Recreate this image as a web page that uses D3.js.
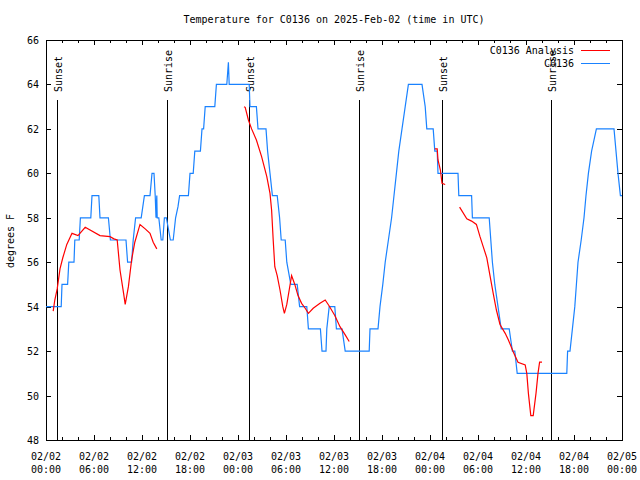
<!DOCTYPE html>
<html><head><meta charset="utf-8">
<script src="https://cdn.jsdelivr.net/npm/d3@7/dist/d3.min.js"></script>
<style>
body{margin:0;background:#fff}
text{font-family:"DejaVu Sans Mono","Liberation Mono",monospace;font-size:10px;fill:#000}
</style>
</head><body><svg id="c" width="640" height="480"></svg>
<script>
// ---- data (hours after 2025-02-02 00:00 UTC) ----
const title = "Temperature for C0136 on 2025-Feb-02 (time in UTC)";
const yLabel = "degrees F";
const seriesNames = ["C0136 Analysis", "C0136"];
const yTicks = [48, 50, 52, 54, 56, 58, 60, 62, 64, 66];

const obsHours = [0,1.9,2.0,2.7,2.85,3.5,3.6,4.15,4.3,5.6,5.75,6.6,6.75,7.8,8.05,10.0,10.2,10.7,10.9,11.2,11.9,12.3,13.0,13.25,13.5,13.65,13.75,13.85,13.9,14.1,14.4,14.6,14.8,15.05,15.55,15.9,16.2,16.5,16.7,17.8,18.0,18.4,18.6,19.3,19.5,19.7,19.9,21.1,21.3,22.6,22.8,22.9,25.4,25.5,26.3,26.5,27.5,27.7,28.0,28.3,28.9,29.2,29.4,29.9,30.1,30.6,31.4,31.7,32.6,32.8,34.3,34.5,35.0,35.1,35.4,36.1,36.3,37.0,37.4,40.4,40.5,41.5,41.75,42.1,42.4,42.8,43.2,43.5,43.8,44.1,44.5,44.9,45.3,47.0,47.4,47.6,48.4,48.6,48.9,49.0,51.5,51.6,53.2,53.3,55.4,55.6,55.8,56.1,56.5,56.9,57.9,58.1,58.3,58.6,58.9,65.1,65.2,65.5,65.8,66.1,66.3,66.5,66.9,67.25,67.5,67.8,68.2,68.8,71.0,71.25,71.5,71.8,72];
const obsTemps = [54,54,55,55,56,56,57,57,58,58,59,59,58,58,57,57,56,56,57,58,58,59,59,60,60,59,58,59,58,58,57,57,58,58,57,57,58,58.5,59,59,60,60,61,61,62,62,63,63,64,64,65,64,64,63,63,62,62,61,60,59,59,58,57,57,56,55,55,54,54,53,53,52,52,53,54,54,53,53,52,52,53,53,54,55,56,57,58,59,60,61,62,63,64,64,63,62,62,61,61,60,60,59,59,58,58,57,56,55,54,53,53,52.5,52,52,51,51,52,52,53,54,55,56,57,58,59,60,61,62,62,61,60,59,59];

// analysis series; null marks a gap between runs
const anaHours = [0.9,1.1,1.4,1.75,2.1,2.6,3.25,4.0,4.9,6.75,8.0,8.5,8.9,9.25,9.7,9.9,10.3,10.7,11.1,11.75,12.4,13.0,13.4,13.85,
  null,
  24.75,24.9,25.3,25.7,26.3,26.95,27.6,28.0,28.2,28.4,28.6,28.9,29.25,29.6,29.8,30.1,30.4,30.7,31.1,31.5,31.95,32.4,32.8,33.4,34.25,34.9,35.4,36.1,36.75,37.4,37.9,
  null,
  48.6,48.9,49.0,49.3,49.5,49.9,
  null,
  51.7,52.6,53.2,53.8,54.25,54.65,55.1,55.5,55.9,56.3,56.75,57.4,57.8,58.4,59.0,59.9,60.1,60.3,60.6,60.9,61.25,61.5,61.7,62.0];
const anaTemps = [53.8,54.3,54.8,55.7,56.2,56.8,57.3,57.2,57.57,57.2,57.15,57.05,57.0,55.65,54.6,54.1,54.9,56.1,56.9,57.7,57.5,57.3,56.9,56.6,
  null,
  63.0,62.97,62.4,62.0,61.5,60.75,59.85,59.1,58.35,57.0,55.8,55.4,54.75,54.0,53.7,54.1,54.75,55.4,55.0,54.5,54.15,53.93,53.7,53.93,54.15,54.3,54.03,53.6,53.1,52.73,52.43,
  null,
  61.1,61.1,60.6,60.15,59.55,59.5,
  null,
  58.48,57.95,57.85,57.7,57.15,56.7,56.2,55.4,54.6,53.85,53.2,52.8,52.5,51.97,51.5,51.38,51.0,50.1,49.1,49.1,50.1,51.0,51.5,51.5];

const sunEvents = [
  {h: 1.42, label: "Sunset"}, {h: 15.16, label: "Sunrise"},
  {h: 25.43, label: "Sunset"}, {h: 39.14, label: "Sunrise"},
  {h: 49.45, label: "Sunset"}, {h: 63.16, label: "Sunrise"}
];

// ---- drawing ----
const start = Date.UTC(2025, 1, 2, 0, 0);
const toDate = h => new Date(start + h * 3600e3);
const svg = d3.select("#c");
const L = 46, R = 622, T = 40, B = 440;
const x = d3.scaleUtc().domain([toDate(0), toDate(72)]).range([L, R]);
const y = d3.scaleLinear().domain([48, 66]).range([B, T]);

svg.append("rect").attr("width", 640).attr("height", 480).attr("fill", "#fff");

// title and y label
svg.append("text").attr("x", 334).attr("y", 23).attr("text-anchor", "middle").text(title);
svg.append("text").attr("transform", "translate(14,241) rotate(-90)").attr("text-anchor", "middle").text(yLabel);

const g = svg.append("g").attr("shape-rendering", "crispEdges");

// y ticks
yTicks.forEach(v => {
  const yy = Math.round(y(v)) + 0.5;
  g.append("line").attr("x1", L).attr("x2", L + 5).attr("y1", yy).attr("y2", yy).attr("stroke", "#000");
  g.append("line").attr("x1", R - 5).attr("x2", R).attr("y1", yy).attr("y2", yy).attr("stroke", "#000");
  svg.append("text").attr("x", 39).attr("y", y(v) + 4).attr("text-anchor", "end").text(v);
});

// x ticks
const major = d3.utcHour.every(6).range(toDate(0), toDate(72.01));
const minor = d3.utcHour.every(2).range(toDate(0), toDate(72.01));
minor.forEach(d => {
  const xx = Math.round(x(d)) + 0.5;
  const len = (d.getUTCHours() % 6 === 0) ? 5 : 3;
  g.append("line").attr("x1", xx).attr("x2", xx).attr("y1", B).attr("y2", B - len).attr("stroke", "#000");
  g.append("line").attr("x1", xx).attr("x2", xx).attr("y1", T).attr("y2", T + len).attr("stroke", "#000");
});
const fDay = d3.utcFormat("%m/%d"), fTime = d3.utcFormat("%H:%M");
major.forEach(d => {
  const t = svg.append("text").attr("x", x(d)).attr("y", 460).attr("text-anchor", "middle");
  t.append("tspan").attr("x", x(d)).attr("y", 460).text(fDay(d));
  t.append("tspan").attr("x", x(d)).attr("y", 473).text(fTime(d));
});

// sunrise / sunset markers
sunEvents.forEach(e => {
  const xx = Math.round(x(toDate(e.h))) + 0.5;
  g.append("line").attr("x1", xx).attr("x2", xx).attr("y1", 100).attr("y2", B).attr("stroke", "#000");
  svg.append("text").attr("transform", `translate(${xx + 4},92) rotate(-90)`).attr("text-anchor", "start").text(e.label);
});

// border
g.append("rect").attr("x", L + 0.5).attr("y", T + 0.5).attr("width", R - L).attr("height", B - T)
  .attr("fill", "none").attr("stroke", "#000");

// series
const obs = obsHours.map((h, i) => ({d: toDate(h), v: obsTemps[i]}));
const ana = anaHours.map((h, i) => ({d: h === null ? null : toDate(h), v: anaTemps[i]}));
const line = d3.line().defined(p => p.d !== null && p.v !== null).x(p => x(p.d)).y(p => y(p.v));

svg.append("path").datum(obs).attr("d", line).attr("fill", "none").attr("stroke", "#1a82ff").attr("stroke-width", 1.2);
svg.append("path").datum(ana).attr("d", line).attr("fill", "none").attr("stroke", "#ff0000").attr("stroke-width", 1.2);

// legend
const legend = [{name: seriesNames[0], color: "#ff0000", y: 50}, {name: seriesNames[1], color: "#1a82ff", y: 63}];
legend.forEach(l => {
  svg.append("text").attr("x", 574).attr("y", l.y + 4).attr("text-anchor", "end").text(l.name);
  g.append("line").attr("x1", 581).attr("x2", 610).attr("y1", l.y + 0.5).attr("y2", l.y + 0.5).attr("stroke", l.color);
});
</script>
</body></html>
